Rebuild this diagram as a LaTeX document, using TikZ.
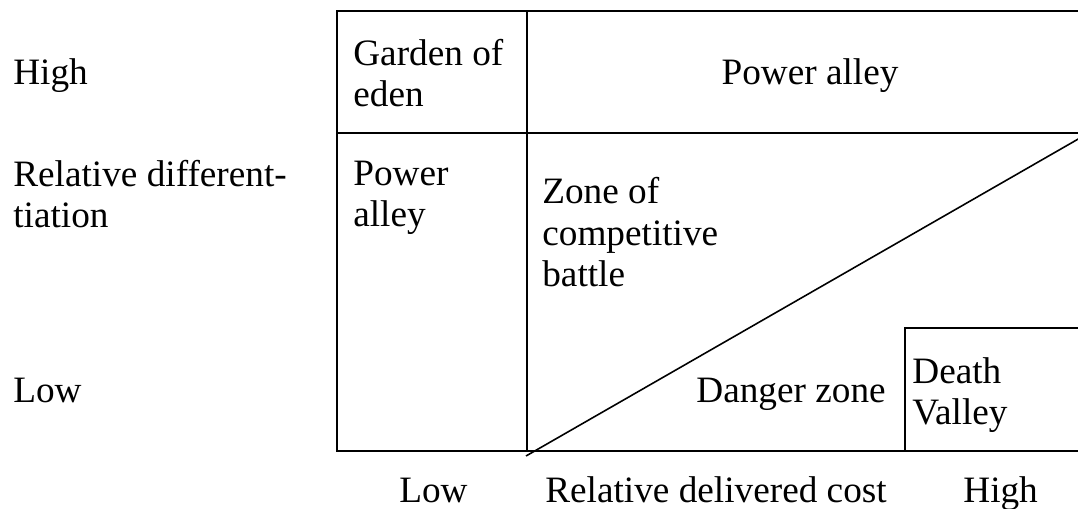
\documentclass[tikz,border=0pt]{standalone}
\usepackage{fontspec}
\setmainfont{Liberation Serif}
\usepackage{tikz}
\usetikzlibrary{positioning}

\tikzset{
    lbl/.style={inner sep=0pt, anchor=base west, align=left,
        font=\fontsize{21.2pt}{23.9pt}\selectfont},
    grid/.style={line width=1.1pt},
}

\begin{document}
\begin{tikzpicture}[x=0.02cm, y=-0.02cm]
            \useasboundingbox (0,0) rectangle (1078,509);

            % corners of the chart
            \coordinate (tl) at (337, 11);
            \coordinate (tr) at (1078, 11);
            \coordinate (bl) at (337, 451);
            \coordinate (br) at (1078, 451);
            \coordinate (it) at (527, 11);
            \coordinate (ib) at (527, 451);
            \coordinate (ml) at (337, 133);
            \coordinate (mr) at (1078, 133);
            \coordinate (db) at (905, 451);
            \coordinate (dt) at (905, 328);
            \coordinate (dr) at (1078, 328);
            \coordinate (d0) at (526, 456);
            \coordinate (d1) at (1080, 138);

            \draw[grid] (tr) -- (tl) -- (bl) -- (br);
            \draw[grid] (it) -- (ib);
            \draw[grid] (ml) -- (mr);
            \draw[grid] (db) -- (dt) -- (dr);
            \draw[line width=0.9pt] (d0) -- (d1);

            % axis texts (multi-line nodes sit on their last baseline)
            \node[lbl] (hi)   at (13, 85)  {High};
            \node[lbl] (rdif) at (13, 228) {Relative different-\\tiation};
            \node[lbl] (lo)   at (13, 403) {Low};
            \node[lbl] (xlo)  at (399, 502) {Low};
            \node[lbl] (rcost) at (545, 502) {Relative delivered cost};
            \node[lbl] (xhi)  at (963, 502) {High};

            % zones
            \node[lbl] (eden)   at (353, 107) {Garden of\\eden};
            \node[lbl, anchor=base] (powtop) at (810, 85) {Power alley};
            \node[lbl] (powleft) at (353, 227) {Power\\alley};
            \node[lbl] (battle) at (542, 287) {Zone of\\competitive\\battle};
            \node[lbl, anchor=base east] (danger) at (886, 403) {Danger zone};
            \node[lbl] (death)  at (912, 425) {Death\\Valley};
        \end{tikzpicture}
\end{document}
